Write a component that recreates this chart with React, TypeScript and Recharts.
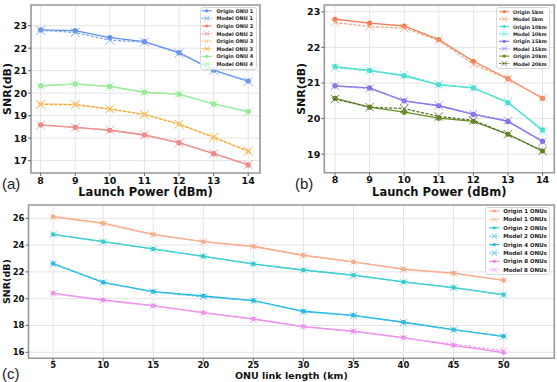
import React from 'react';
import { LineChart, Line, XAxis, YAxis, CartesianGrid, ReferenceArea, Label } from 'recharts';

// ---------- Data: panel (a) ----------
const powers = [8, 9, 10, 11, 12, 13, 14];
const originOnu1 = [22.81, 22.78, 22.47, 22.29, 21.8, 21.03, 20.54];
const modelOnu1 = [22.79, 22.7, 22.36, 22.27, 21.78, 21.0, 20.52];
const originOnu2 = [18.59, 18.48, 18.35, 18.14, 17.8, 17.31, 16.81];
const modelOnu2 = [18.58, 18.47, 18.36, 18.15, 17.79, 17.31, 16.82];
const originOnu3 = [19.52, 19.5, 19.3, 19.06, 18.63, 18.04, 17.41];
const modelOnu3 = [19.5, 19.49, 19.29, 19.05, 18.62, 18.04, 17.42];
const originOnu4 = [20.33, 20.41, 20.3, 20.04, 19.96, 19.52, 19.18];
const modelOnu4 = [20.32, 20.4, 20.29, 20.05, 19.95, 19.51, 19.17];

// ---------- Data: panel (b) ----------
const origin5km = [22.79, 22.68, 22.6, 22.22, 21.61, 21.12, 20.57];
const model5km = [22.7, 22.58, 22.54, 22.2, 21.53, 21.11, 20.57];
const origin10km = [21.46, 21.35, 21.2, 20.95, 20.86, 20.45, 19.68];
const model10km = [21.43, 21.34, 21.23, 20.96, 20.86, 20.46, 19.65];
const origin15km = [20.92, 20.86, 20.5, 20.36, 20.12, 19.92, 19.36];
const model15km = [20.91, 20.85, 20.49, 20.37, 20.13, 19.94, 19.35];
const origin20km = [20.57, 20.32, 20.18, 20.01, 19.92, 19.56, 19.09];
const model20km = [20.55, 20.32, 20.28, 20.06, 19.95, 19.56, 19.09];

// ---------- Data: panel (c) ----------
const lengths = [5, 10, 15, 20, 25, 30, 35, 40, 45, 50];
const origin1Onus = [26.12, 25.63, 24.8, 24.26, 23.9, 23.24, 22.74, 22.2, 21.9, 21.37];
const model1Onus = [26.08, 25.6, 24.77, 24.25, 23.88, 23.22, 22.74, 22.18, 21.88, 21.37];
const origin2Onus = [24.8, 24.26, 23.71, 23.16, 22.59, 22.14, 21.75, 21.25, 20.83, 20.3];
const model2Onus = [24.78, 24.25, 23.7, 23.15, 22.58, 22.13, 21.74, 21.24, 20.82, 20.29];
const origin4Onus = [22.62, 21.22, 20.53, 20.2, 19.86, 19.06, 18.76, 18.24, 17.69, 17.19];
const model4Onus = [22.6, 21.2, 20.5, 20.15, 19.84, 19.02, 18.74, 18.22, 17.67, 17.18];
const origin8Onus = [20.4, 19.9, 19.48, 18.96, 18.49, 17.92, 17.57, 17.1, 16.52, 15.98];
const model8Onus = [20.38, 19.87, 19.46, 18.93, 18.45, 17.9, 17.55, 17.06, 16.6, 16.12];

// ---------- Ticks / domains ----------
const powerTicks = [8, 9, 10, 11, 12, 13, 14];
const snrTicksA = [17, 18, 19, 20, 21, 22, 23];
const snrTicksB = [19, 20, 21, 22, 23];
const lengthTicks = [5, 10, 15, 20, 25, 30, 35, 40, 45, 50];
const snrTicksC = [16, 18, 20, 22, 24, 26];

type Series = { key: string; name: string; color: string; model: boolean; values: number[] };

const seriesA: Series[] = [
  { key: 'o1', name: 'Origin ONU 1', color: '#5f8fe8', model: false, values: originOnu1 },
  { key: 'm1', name: 'Model ONU 1', color: '#7ea6ee', model: true, values: modelOnu1 },
  { key: 'o2', name: 'Origin ONU 2', color: '#ee7f7f', model: false, values: originOnu2 },
  { key: 'm2', name: 'Model ONU 2', color: '#f09a9a', model: true, values: modelOnu2 },
  { key: 'o3', name: 'Origin ONU 3', color: '#fdd6a4', model: false, values: originOnu3 },
  { key: 'm3', name: 'Model ONU 3', color: '#f2aa2a', model: true, values: modelOnu3 },
  { key: 'o4', name: 'Origin ONU 4', color: '#8fe88f', model: false, values: originOnu4 },
  { key: 'm4', name: 'Model ONU 4', color: '#a6eea6', model: true, values: modelOnu4 },
];

const seriesB: Series[] = [
  { key: 'o5', name: 'Origin 5km', color: '#f47c52', model: false, values: origin5km },
  { key: 'm5', name: 'Model 5km', color: '#f4a483', model: true, values: model5km },
  { key: 'o10', name: 'Origin 10km', color: '#3edccd', model: false, values: origin10km },
  { key: 'm10', name: 'Model 10km', color: '#62e4d8', model: true, values: model10km },
  { key: 'o15', name: 'Origin 15km', color: '#7a68ec', model: false, values: origin15km },
  { key: 'm15', name: 'Model 15km', color: '#9a8cf0', model: true, values: model15km },
  { key: 'o20', name: 'Origin 20km', color: '#6b8e23', model: false, values: origin20km },
  { key: 'm20', name: 'Model 20km', color: '#56702e', model: true, values: model20km },
];

const seriesC: Series[] = [
  { key: 'o1', name: 'Origin 1 ONUs', color: '#f8a07c', model: false, values: origin1Onus },
  { key: 'm1', name: 'Model 1 ONUs', color: '#f9b79a', model: true, values: model1Onus },
  { key: 'o2', name: 'Origin 2 ONUs', color: '#22c8cc', model: false, values: origin2Onus },
  { key: 'm2', name: 'Model 2 ONUs', color: '#52d2d4', model: true, values: model2Onus },
  { key: 'o4', name: 'Origin 4 ONUs', color: '#10b4e2', model: false, values: origin4Onus },
  { key: 'm4', name: 'Model 4 ONUs', color: '#4cc4e6', model: true, values: model4Onus },
  { key: 'o8', name: 'Origin 8 ONUs', color: '#ec80ec', model: false, values: origin8Onus },
  { key: 'm8', name: 'Model 8 ONUs', color: '#f0a4f0', model: true, values: model8Onus },
];

const buildRows = (xs: number[], series: Series[]) =>
  xs.map((x, i) => {
    const row: Record<string, number> = { x };
    series.forEach((s) => {
      row[s.key] = s.values[i];
    });
    return row;
  });

const FONT = '"DejaVu Sans", sans-serif';

const makeCircle = (color: string, r: number, k: string) => (props: any) => {
  const { cx, cy, index } = props;
  if (cx == null || cy == null) return <g key={`${k}-${index}`} />;
  return <circle key={`${k}-${index}`} cx={cx} cy={cy} r={r} fill={color} />;
};

const makeCross = (color: string, s: number, k: string) => (props: any) => {
  const { cx, cy, index } = props;
  if (cx == null || cy == null) return <g key={`${k}-${index}`} />;
  return (
    <path
      key={`${k}-${index}`}
      d={`M${cx - s},${cy - s}L${cx + s},${cy + s}M${cx - s},${cy + s}L${cx + s},${cy - s}`}
      stroke={color}
      strokeWidth={1}
      strokeOpacity={0.85}
      fill="none"
    />
  );
};

type PanelProps = {
  left: number;
  top: number;
  width: number;
  height: number;
  margin: { top: number; right: number; bottom: number; left: number };
  yAxisWidth: number;
  xAxisHeight: number;
  xs: number[];
  xDomain: [number, number];
  xTicks: number[];
  yDomain: [number, number];
  yTicks: number[];
  series: Series[];
  tickFont: number;
  xLabel: string;
  yLabel: string;
  xLabelFont: number;
  yLabelFont: number;
  xLabelOffset: number;
  yLabelOffset: number;
  dotR: number;
  crossS: number;
};

function Panel(p: PanelProps) {
  const data = buildRows(p.xs, p.series);
  const tick = { fontSize: p.tickFont, fontWeight: 'bold', fill: '#111', fontFamily: FONT };
  return (
    <div style={{ position: 'absolute', left: p.left, top: p.top, width: p.width, height: p.height }}>
      <LineChart width={p.width} height={p.height} data={data} margin={p.margin}>
        <CartesianGrid stroke="#e4e4e4" strokeWidth={1} />
        <XAxis
          dataKey="x"
          type="number"
          domain={p.xDomain}
          ticks={p.xTicks}
          allowDataOverflow
          height={p.xAxisHeight}
          axisLine={false}
          tickLine={{ stroke: '#666' }}
          tickSize={3}
          tickMargin={1}
          tick={tick}
          interval={0}
        >
          <Label
            value={p.xLabel}
            position="insideBottom"
            offset={p.xLabelOffset}
            style={{ fontSize: p.xLabelFont, fontWeight: 'bold', fill: '#111', fontFamily: FONT }}
          />
        </XAxis>
        <YAxis
          type="number"
          domain={p.yDomain}
          ticks={p.yTicks}
          allowDataOverflow
          width={p.yAxisWidth}
          axisLine={false}
          tickLine={{ stroke: '#666' }}
          tickSize={3}
          tickMargin={1}
          tick={tick}
          interval={0}
        >
          <Label
            value={p.yLabel}
            position="insideLeft"
            angle={-90}
            offset={p.yLabelOffset}
            style={{ fontSize: p.yLabelFont, fontWeight: 'bold', fill: '#111', fontFamily: FONT, textAnchor: 'middle' }}
          />
        </YAxis>
        {p.series.map((s) => (
          <Line
            key={s.key}
            type="linear"
            dataKey={s.key}
            name={s.name}
            stroke={s.color}
            strokeWidth={1.3}
            strokeDasharray={s.model ? '3 1.6' : undefined}
            dot={s.model ? makeCross(s.color, p.crossS, s.key) : makeCircle(s.color, p.dotR, s.key)}
            activeDot={false}
            isAnimationActive={false}
          />
        ))}
        <ReferenceArea
          x1={p.xDomain[0]}
          x2={p.xDomain[1]}
          y1={p.yDomain[0]}
          y2={p.yDomain[1]}
          fill="none"
          fillOpacity={0}
          stroke="#9a9a9a"
          strokeWidth={1.6}
          ifOverflow="visible"
        />
      </LineChart>
    </div>
  );
}

type LegendProps = {
  left: number;
  top: number;
  w: number;
  h: number;
  firstY: number;
  rowH: number;
  handleX: number;
  textX: number;
  fontSize: number;
  series: Series[];
  dotR: number;
  crossS: number;
};

function LegendBox(l: LegendProps) {
  return (
    <svg
      style={{ position: 'absolute', left: l.left, top: l.top }}
      width={l.w}
      height={l.h}
    >
      <rect x={0.5} y={0.5} width={l.w - 1} height={l.h - 1} rx={2} fill="#fff" fillOpacity={0.85} stroke="#d8d8d8" />
      {l.series.map((s, i) => {
        const cy = l.firstY + i * l.rowH;
        const hx = l.handleX;
        return (
          <g key={s.key}>
            <line
              x1={hx - 5}
              x2={hx + 5}
              y1={cy}
              y2={cy}
              stroke={s.color}
              strokeWidth={1.1}
              strokeDasharray={s.model ? '2 1' : undefined}
            />
            {s.model ? (
              <path
                d={`M${hx - l.crossS},${cy - l.crossS}L${hx + l.crossS},${cy + l.crossS}M${hx - l.crossS},${cy + l.crossS}L${hx + l.crossS},${cy - l.crossS}`}
                stroke={s.color}
                strokeWidth={0.8}
              />
            ) : (
              <circle cx={hx} cy={cy} r={l.dotR} fill={s.color} />
            )}
            <text
              x={l.textX}
              y={cy}
              dominantBaseline="central"
              fontSize={l.fontSize}
              fontWeight="bold"
              fontFamily={FONT}
              fill="#222"
            >
              {s.name}
            </text>
          </g>
        );
      })}
    </svg>
  );
}

export default function App() {
  return (
    <div
      style={{
        position: 'absolute',
        left: 0,
        top: 0,
        width: 557,
        height: 382,
        background: '#fff',
        overflow: 'hidden',
      }}
    >
      <Panel
        left={0}
        top={0}
        width={275}
        height={200}
        margin={{ top: 5, right: 15, bottom: 0, left: 0 }}
        yAxisWidth={31}
        xAxisHeight={27}
        xs={powers}
        xDomain={[7.72, 14.34]}
        xTicks={powerTicks}
        yDomain={[16.45, 23.92]}
        yTicks={snrTicksA}
        series={seriesA}
        tickFont={9.5}
        xLabel="Launch Power (dBm)"
        yLabel="SNR(dB)"
        xLabelFont={11.5}
        yLabelFont={11}
        xLabelOffset={4}
        yLabelOffset={7}
        dotR={2.6}
        crossS={4.5}
      />
      <Panel
        left={280}
        top={0}
        width={277}
        height={200}
        margin={{ top: 5, right: 2.7, bottom: 0, left: 0 }}
        yAxisWidth={44.3}
        xAxisHeight={27.3}
        xs={powers}
        xDomain={[7.69, 14.34]}
        xTicks={powerTicks}
        yDomain={[18.48, 23.19]}
        yTicks={snrTicksB}
        series={seriesB}
        tickFont={9.5}
        xLabel="Launch Power (dBm)"
        yLabel="SNR(dB)"
        xLabelFont={11.5}
        yLabelFont={11}
        xLabelOffset={4}
        yLabelOffset={21}
        dotR={2.6}
        crossS={4.2}
      />
      <Panel
        left={0}
        top={190}
        width={557}
        height={192}
        margin={{ top: 15, right: 2.7, bottom: 0, left: 0 }}
        yAxisWidth={28.5}
        xAxisHeight={23.7}
        xs={lengths}
        xDomain={[2.54, 55.06]}
        xTicks={lengthTicks}
        yDomain={[15.55, 26.99]}
        yTicks={snrTicksC}
        series={seriesC}
        tickFont={8.5}
        xLabel="ONU link length (km)"
        yLabel="SNR(dB)"
        xLabelFont={9.5}
        yLabelFont={9.5}
        xLabelOffset={3}
        yLabelOffset={7}
        dotR={2.2}
        crossS={3.5}
      />
      <LegendBox
        left={200}
        top={7}
        w={57}
        h={63}
        firstY={3.8}
        rowH={7.6}
        handleX={6.7}
        textX={16.5}
        fontSize={5}
        series={seriesA}
        dotR={1.6}
        crossS={2.6}
      />
      <LegendBox
        left={496}
        top={7}
        w={54}
        h={62}
        firstY={4.7}
        rowH={7.4}
        handleX={8.3}
        textX={17}
        fontSize={4.9}
        series={seriesB}
        dotR={1.6}
        crossS={2.6}
      />
      <LegendBox
        left={485}
        top={207}
        w={65}
        h={68}
        firstY={4}
        rowH={8.4}
        handleX={9.3}
        textX={18.3}
        fontSize={5.5}
        series={seriesC}
        dotR={1.6}
        crossS={2.8}
      />
      <svg style={{ position: 'absolute', left: 0, top: 0, pointerEvents: 'none' }} width={557} height={382}>
        <text x={2} y={188.5} fontSize={15} fontFamily='"Liberation Sans", Arial, sans-serif' fill="#222">
          (a)
        </text>
        <text x={295} y={188.5} fontSize={15} fontFamily='"Liberation Sans", Arial, sans-serif' fill="#222">
          (b)
        </text>
        <text x={2} y={379} fontSize={15} fontFamily='"Liberation Sans", Arial, sans-serif' fill="#222">
          (c)
        </text>
      </svg>
    </div>
  );
}
